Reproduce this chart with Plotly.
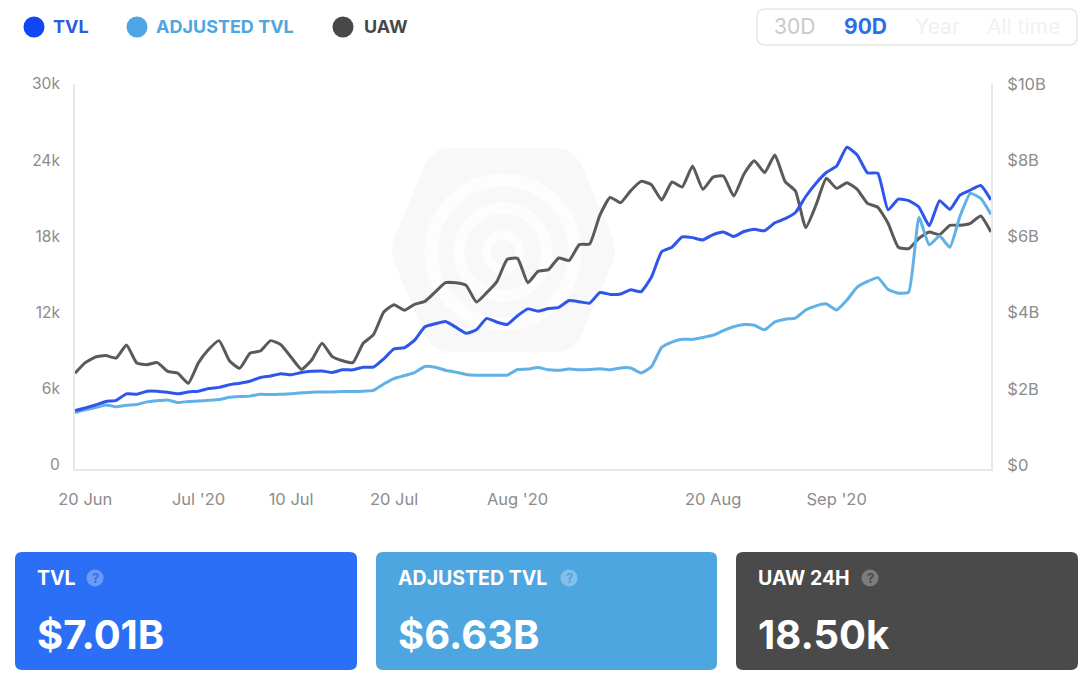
import plotly.graph_objects as go
from datetime import date, timedelta

W, H = 1088, 682
START = date(2020, 6, 19)

uaw_k = [7.38, 8.22, 8.66, 8.77, 8.58, 9.61, 8.19, 8.06, 8.22, 7.53,
         7.38, 6.59, 8.22, 9.27, 9.95, 8.37, 7.77, 8.95, 9.13, 9.95,
         9.63, 8.64, 7.69, 8.43, 9.74, 8.69, 8.37, 8.22, 9.74, 10.42,
         12.20, 12.78, 12.34, 12.81, 13.04, 13.78, 14.51, 14.51, 14.30, 12.99,
         13.73, 14.62, 16.35, 16.43, 14.51, 15.41, 15.54, 16.46, 16.25, 17.51,
         17.56, 19.84, 21.23, 20.81, 21.76, 22.49, 22.23, 21.02, 22.44, 22.05,
         23.70, 21.86, 22.83, 22.91, 21.34, 23.07, 24.12, 23.18, 24.57, 22.47,
         21.73, 18.85, 20.63, 22.73, 21.94, 22.39, 21.86, 20.76, 20.45, 19.19,
         17.30, 17.19, 18.01, 18.50, 18.29, 19.03, 19.03, 19.19, 19.76, 18.50]

tvl_b = [1.48, 1.55, 1.63, 1.72, 1.75, 1.92, 1.91, 1.99, 1.99, 1.96,
         1.92, 1.97, 1.99, 2.06, 2.09, 2.16, 2.20, 2.25, 2.35, 2.39,
         2.45, 2.42, 2.48, 2.51, 2.52, 2.48, 2.55, 2.55, 2.62, 2.62,
         2.84, 3.10, 3.13, 3.33, 3.68, 3.76, 3.82, 3.67, 3.51, 3.60,
         3.90, 3.80, 3.74, 3.97, 4.15, 4.09, 4.16, 4.19, 4.37, 4.34,
         4.30, 4.58, 4.53, 4.54, 4.65, 4.60, 4.98, 5.65, 5.77, 6.04,
         6.02, 5.96, 6.10, 6.17, 6.05, 6.18, 6.24, 6.20, 6.41, 6.52,
         6.68, 7.10, 7.45, 7.73, 7.90, 8.39, 8.19, 7.72, 7.71, 6.75,
         7.03, 6.99, 6.82, 6.33, 6.99, 6.76, 7.14, 7.27, 7.39, 7.01]

adj_b = [1.43, 1.50, 1.56, 1.63, 1.58, 1.62, 1.64, 1.71, 1.74, 1.76,
         1.69, 1.72, 1.73, 1.75, 1.77, 1.83, 1.85, 1.86, 1.91, 1.90,
         1.91, 1.92, 1.95, 1.96, 1.97, 1.97, 1.98, 1.98, 1.99, 2.01,
         2.18, 2.32, 2.40, 2.48, 2.64, 2.62, 2.54, 2.49, 2.43, 2.41,
         2.41, 2.41, 2.41, 2.56, 2.57, 2.61, 2.55, 2.54, 2.57, 2.55,
         2.56, 2.58, 2.55, 2.60, 2.60, 2.47, 2.63, 3.14, 3.28, 3.35,
         3.35, 3.40, 3.46, 3.58, 3.68, 3.74, 3.72, 3.60, 3.81, 3.88,
         3.91, 4.12, 4.23, 4.28, 4.12, 4.38, 4.72, 4.87, 4.97, 4.66,
         4.56, 4.59, 6.55, 5.83, 6.06, 5.77, 6.59, 7.18, 7.05, 6.63]

dates = [START + timedelta(days=i) for i in range(len(uaw_k))]

x_ticks = ["2020-06-20", "2020-07-01", "2020-07-10", "2020-07-20",
           "2020-08-01", "2020-08-20", "2020-09-01"]
x_labels = ["20 Jun", "Jul '20", "10 Jul", "20 Jul", "Aug '20", "20 Aug", "Sep '20"]
left_ticks = [0, 6, 12, 18, 24, 30]
left_labels = ["0", "6k", "12k", "18k", "24k", "30k"]
right_ticks = [0, 2, 4, 6, 8, 10]
right_labels = ["$0", "$2B", "$4B", "$6B", "$8B", "$10B"]

FONT = "Inter, Roboto, sans-serif"
C_TVL, C_ADJ, C_UAW = "#2f56ea", "#62b1e6", "#5a5a5a"


def X(p):
    return p / W


def Y(p):
    return 1 - p / H


def rrect(x0, y0, x1, y1, r):
    xa, xb, ya, yb = X(x0), X(x1), Y(y0), Y(y1)
    rx, ry = r / W, r / H
    return (f"M{xa+rx},{ya} L{xb-rx},{ya} Q{xb},{ya} {xb},{ya-ry} L{xb},{yb+ry} "
            f"Q{xb},{yb} {xb-rx},{yb} L{xa+rx},{yb} Q{xa},{yb} {xa},{yb+ry} "
            f"L{xa},{ya-ry} Q{xa},{ya} {xa+rx},{ya} Z")


def circle(cx, cy, r, fill="rgba(0,0,0,0)", line=None, lw=0, layer="above"):
    return dict(type="circle", xref="paper", yref="paper", layer=layer,
                x0=X(cx - r), x1=X(cx + r), y0=Y(cy + r), y1=Y(cy - r),
                fillcolor=fill, line=dict(color=line or fill, width=lw))


def text(px, py, s, size, color, bold=False, anchor="left"):
    return dict(xref="paper", yref="paper", x=X(px), y=Y(py), text=f"<b>{s}</b>" if bold else s,
                showarrow=False, xanchor=anchor, yanchor="middle",
                font=dict(family=FONT, size=size, color=color))


shapes = []
annots = []

# watermark: a rounded hexagon with faint concentric rings
hexpath = (f"M{X(450)},{Y(148)} L{X(556)},{Y(148)} Q{X(572)},{Y(148)} {X(581)},{Y(164)} "
           f"L{X(612)},{Y(236)} Q{X(618)},{Y(250)} {X(612)},{Y(264)} "
           f"L{X(581)},{Y(336)} Q{X(572)},{Y(352)} {X(556)},{Y(352)} "
           f"L{X(450)},{Y(352)} Q{X(434)},{Y(352)} {X(425)},{Y(336)} "
           f"L{X(395)},{Y(264)} Q{X(389)},{Y(250)} {X(395)},{Y(236)} "
           f"L{X(425)},{Y(164)} Q{X(434)},{Y(148)} {X(450)},{Y(148)} Z")
shapes.append(dict(type="path", xref="paper", yref="paper", path=hexpath, layer="below",
                   fillcolor="#f8f8f8", line=dict(color="#f8f8f8", width=0)))
for r, w in ((72, 13), (44, 11), (17, 9)):
    shapes.append(circle(503, 252, r, line="#fdfdfd", lw=w, layer="below"))

# legend
for cx, col, tx, label, tcol in ((34, "#0f47f5", 51, "TVL", "#2b5cdf"),
                                 (137, "#4ea6e6", 154, "ADJUSTED TVL", "#4ea6e0"),
                                 (343, "#484848", 362, "UAW", "#484848")):
    shapes.append(circle(cx, 27, 10.5, fill=col))
    annots.append(text(tx, 27, label, 18, tcol, True))

# range buttons
shapes.append(dict(type="path", xref="paper", yref="paper", path=rrect(757, 9, 1077, 45, 8),
                   fillcolor="#ffffff", line=dict(color="#e6e6e6", width=1.5)))
annots.append(text(794, 27, "30D", 21, "#c9c9c9", anchor="center"))
annots.append(text(865, 27, "90D", 21, "#2b6fe8", True, anchor="center"))
annots.append(text(937, 27, "Year", 21, "#f0f0f0", anchor="center"))
annots.append(text(1023, 27, "All time", 21, "#f2f2f2", anchor="center"))

# cards
for x0, x1, col, label, qx, qc, value in (
        (15, 357, "#2b6ff6", "TVL", 95, "#6b9bf8", "$7.01B"),
        (376, 717, "#4ea6e0", "ADJUSTED TVL", 569, "#84c0ea", "$6.63B"),
        (736, 1078, "#4a4a4a", "UAW 24H", 870, "#7d7d7d", "18.50k")):
    shapes.append(dict(type="path", xref="paper", yref="paper", path=rrect(x0, 552, x1, 670, 7),
                       fillcolor=col, line=dict(color=col, width=0)))
    annots.append(text(x0 + 20, 578, label, 19.5, "#ffffff", True))
    shapes.append(circle(qx, 578, 8.5, fill=qc))
    annots.append(text(qx, 578, "?", 13, col, True, anchor="center"))
    annots.append(text(x0 + 20, 634, value, 40, "#ffffff", True))

fig = go.Figure()
fig.add_trace(go.Scatter(x=dates, y=uaw_k, name="UAW", yaxis="y", mode="lines",
                         line=dict(color=C_UAW, width=3, shape="spline", smoothing=0.45)))
fig.add_trace(go.Scatter(x=dates, y=adj_b, name="ADJUSTED TVL", yaxis="y2", mode="lines",
                         line=dict(color=C_ADJ, width=3, shape="spline", smoothing=0.45)))
fig.add_trace(go.Scatter(x=dates, y=tvl_b, name="TVL", yaxis="y2", mode="lines",
                         line=dict(color=C_TVL, width=3, shape="spline", smoothing=0.45)))

tick_font = dict(family=FONT, size=16.5, color="#8c8c8c")
left_font = dict(family=FONT, size=15.5, color="#8c8c8c")
fig.update_layout(
    width=W, height=H, margin=dict(l=0, r=0, t=0, b=0, autoexpand=False),
    paper_bgcolor="#ffffff", plot_bgcolor="rgba(0,0,0,0)", showlegend=False,
    hovermode="x unified", shapes=shapes, annotations=annots,
    xaxis=dict(domain=[X(75), X(991)], range=[dates[0], dates[-1]], type="date",
               tickmode="array", tickvals=x_ticks, ticktext=x_labels, showgrid=False,
               ticks="", tickfont=tick_font, ticklabelstandoff=14, showline=True, automargin=False,
               linecolor="#e8e8e8", linewidth=2, zeroline=False),
    yaxis=dict(domain=[Y(469), Y(84)], range=[-0.157, 30.157], tickmode="array",
               tickvals=left_ticks, ticktext=left_labels, showgrid=False, zeroline=False,
               tickfont=left_font, ticklabelstandoff=10, ticklabelshift=-2, showline=True,
               automargin=False, linecolor="#e8e8e8", linewidth=2),
    yaxis2=dict(domain=[Y(469), Y(84)], range=[-0.0525, 10.0525], overlaying="y", side="right",
                tickmode="array", tickvals=right_ticks, ticktext=right_labels, showgrid=False,
                zeroline=False, tickfont=tick_font, ticklabelstandoff=11, ticklabelshift=-2,
                showline=True, automargin=False, linecolor="#e8e8e8", linewidth=2),
)

fig.write_html("out.html", config={"displayModeBar": False},
               post_script="document.body.style.margin='0';")
